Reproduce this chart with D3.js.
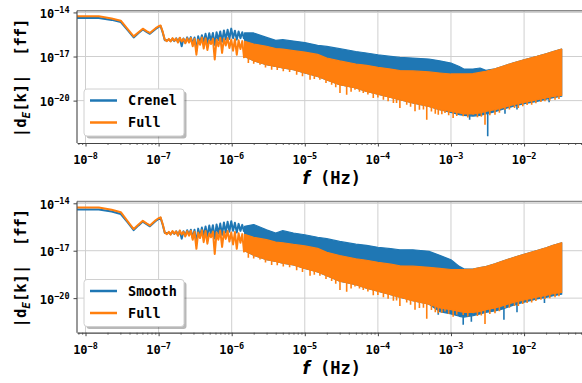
<!DOCTYPE html>
<html><head><meta charset="utf-8">
<script src="https://cdn.jsdelivr.net/npm/d3@7"></script>
<style>
html,body{margin:0;padding:0;background:#fff;}
svg{display:block;}
text{font-family:"DejaVu Sans Mono",monospace;font-weight:bold;fill:#000;}
</style>
</head><body>
<svg id="chart" width="582" height="383"></svg>
<script>
// ---------- data ----------
const xTickValues = [1e-8, 1e-7, 1e-6, 1e-5, 1e-4, 1e-3, 1e-2];
const xTickExponents = ["−8", "−7", "−6", "−5", "−4", "−3", "−2"];
const yTickValues = [1e-14, 1e-17, 1e-20];
const yTickExponents = ["−14", "−17", "−20"];

// low-frequency individual points (lines)
const lineFreq = [7.6e-9, 1.52e-8, 2.28e-8, 3.04e-8, 3.8e-8, 4.56e-8, 5.32e-8, 6.08e-8, 6.84e-8, 7.6e-8,
  8.36e-8, 9.12e-8, 9.88e-8, 1.064e-7, 1.14e-7, 1.216e-7,
  1.30e-7, 1.38e-7, 1.46e-7, 1.55e-7, 1.64e-7, 1.74e-7, 1.84e-7, 1.95e-7, 2.07e-7, 2.19e-7,
  2.32e-7, 2.46e-7, 2.61e-7, 2.76e-7, 2.93e-7, 3.10e-7, 3.29e-7, 3.48e-7, 3.69e-7, 3.91e-7,
  4.14e-7, 4.39e-7, 4.65e-7, 4.93e-7, 5.22e-7, 5.53e-7, 5.86e-7, 6.21e-7, 6.58e-7, 6.97e-7,
  7.39e-7, 7.83e-7, 8.29e-7, 8.79e-7, 9.31e-7, 9.86e-7, 1.045e-6, 1.107e-6, 1.173e-6, 1.243e-6,
  1.317e-6, 1.395e-6, 1.478e-6];
const fullLine = [5.4e-15, 5.4e-15, 3.9e-15, 2.75e-15, 7.0e-16, 2.35e-16, 4.5e-16, 7.8e-16, 5.4e-16, 4.0e-16,
  5.9e-16, 8.5e-16, 1.1e-15, 1.3e-15, 4.7e-16, 1.4e-16,
  1.12e-16, 1.58e-16, 1.05e-16, 1.78e-16, 1.2e-16, 1.66e-16, 8.9e-17, 1.9e-16, 1.05e-16, 1.58e-16,
  7.9e-17, 1.74e-16, 8.9e-17, 1.82e-16, 5.0e-17, 1.58e-16, 1.32e-17, 1.41e-16, 6.3e-17, 2.0e-16,
  3.5e-17, 1.78e-16, 2.8e-17, 1.26e-16, 7.1e-17, 1.66e-16, 6.3e-18, 1.41e-16, 5.0e-17, 1.9e-16,
  1.74e-17, 1.58e-16, 5.6e-17, 1.78e-16, 3.8e-17, 1.41e-16, 2.5e-17, 1.51e-16, 1.32e-17, 1.26e-16,
  3.2e-17, 1.12e-16, 7.9e-18];
const crenelLine = [4.2e-15, 4.2e-15, 3.1e-15, 2.2e-15, 6.0e-16, 2.0e-16, 4.0e-16, 7.0e-16, 4.8e-16, 3.5e-16,
  5.2e-16, 7.5e-16, 1.0e-15, 1.2e-15, 4.2e-16, 1.3e-16,
  1.26e-16, 1.41e-16, 1.12e-16, 1.58e-16, 1.12e-16, 1.74e-16, 1.0e-16, 1.82e-16, 5.0e-17, 1.66e-16,
  8.9e-17, 2.0e-16, 1.0e-16, 2.1e-16, 7.1e-17, 2.0e-16, 2.5e-17, 2.4e-16, 7.9e-17, 2.8e-16,
  8.9e-17, 3.5e-16, 7.9e-17, 3.8e-16, 1.12e-16, 4.0e-16, 6.3e-17, 4.5e-16, 1.26e-16, 5.0e-16,
  1.0e-16, 6.0e-16, 1.41e-16, 6.6e-16, 1.58e-16, 7.9e-16, 1.78e-16, 5.6e-16, 1.41e-16, 5.0e-16,
  1.78e-16, 4.5e-16, 1.58e-16];
const smoothLine = [4.1e-15, 4.1e-15, 3.0e-15, 2.1e-15, 6.0e-16, 2.0e-16, 4.0e-16, 7.0e-16, 4.8e-16, 3.5e-16,
  5.2e-16, 7.5e-16, 1.0e-15, 1.2e-15, 4.2e-16, 1.3e-16,
  1.3e-16, 1.4e-16, 1.1e-16, 1.6e-16, 1.15e-16, 1.7e-16, 9.5e-17, 1.8e-16, 5.8e-17, 1.7e-16,
  9.0e-17, 2.0e-16, 1.0e-16, 2.1e-16, 6.3e-17, 2.1e-16, 3.0e-17, 2.5e-16, 8.0e-17, 2.9e-16,
  9.0e-17, 3.4e-16, 8.0e-17, 3.9e-16, 1.1e-16, 4.1e-16, 6.0e-17, 4.6e-16, 1.2e-16, 5.2e-16,
  1.0e-16, 6.2e-16, 1.4e-16, 6.8e-16, 1.6e-16, 7.4e-16, 1.8e-16, 5.8e-16, 1.4e-16, 5.0e-16,
  1.8e-16, 4.3e-16, 1.6e-16];

// dense high-frequency part: upper / lower envelopes
const bandFreq = [1.5e-6, 2e-6, 3e-6, 4e-6, 5e-6, 7e-6, 1e-5, 1.5e-5, 2e-5, 3e-5, 5e-5, 7e-5, 1e-4, 1.5e-4,
  2e-4, 3e-4, 5e-4, 7e-4, 1e-3, 1.3e-3, 1.5e-3, 2e-3, 2.5e-3, 3e-3, 4e-3, 5e-3, 7e-3, 1e-2, 1.5e-2,
  2e-2, 2.5e-2, 3.27e-2];
const fullUpper = [1.1e-16, 7.1e-17, 5.0e-17, 3.5e-17, 3.2e-17, 2.5e-17, 2.0e-17, 1.4e-17, 7.9e-18, 5.0e-18,
  3.1e-18, 2.5e-18, 1.86e-18, 1.4e-18, 1.12e-18, 1.05e-18, 8.9e-19, 7.6e-19, 6.5e-19, 6.5e-19, 6.5e-19,
  6.8e-19, 8.5e-19, 1.0e-18, 1.48e-18, 2.1e-18, 3.6e-18, 6.0e-18, 1.02e-17, 1.55e-17, 2.2e-17, 3.2e-17];
const fullLower = [1.0e-17, 5.1e-18, 2.75e-18, 2.1e-18, 1.66e-18, 1.26e-18, 7.6e-19, 4.5e-19, 2.6e-19, 1.2e-19,
  7.2e-20, 4.3e-20, 2.8e-20, 1.66e-20, 1.15e-20, 6.9e-21, 4.1e-21, 2.4e-21, 1.86e-21, 1.45e-21, 1.23e-21,
  1.23e-21, 1.45e-21, 1.86e-21, 2.4e-21, 3.2e-21, 5.2e-21, 7.6e-21, 1.15e-20, 1.5e-20, 1.95e-20, 2.3e-20];
const crenelUpper = [4.0e-16, 4.0e-16, 2.0e-16, 1.26e-16, 1.41e-16, 1.12e-16, 8.9e-17, 5.8e-17, 4.9e-17, 3.4e-17,
  2.2e-17, 1.74e-17, 1.32e-17, 1.02e-17, 8.7e-18, 7.9e-18, 6.8e-18, 5.1e-18, 3.6e-18, 2.1e-18, 1.41e-18,
  1.41e-18, 1.66e-18, 1.15e-18, 1.48e-18, 2.1e-18, 3.6e-18, 6.0e-18, 1.02e-17, 1.55e-17, 2.2e-17, 3.2e-17];
const crenelLower = [1.0e-17, 5.1e-18, 2.75e-18, 2.1e-18, 1.66e-18, 1.26e-18, 7.6e-19, 4.5e-19, 2.6e-19, 1.2e-19,
  7.2e-20, 4.3e-20, 2.8e-20, 1.66e-20, 1.15e-20, 6.9e-21, 4.1e-21, 2.4e-21, 1.58e-21, 1.12e-21, 1.0e-21,
  8.9e-22, 1.0e-21, 1.26e-21, 1.78e-21, 2.5e-21, 4.0e-21, 6.3e-21, 8.9e-21, 1.26e-20, 1.58e-20, 2.0e-20];
const smoothUpper = [3.5e-16, 4.5e-16, 2.1e-16, 1.32e-16, 1.86e-16, 1.32e-16, 1.02e-16, 7.1e-17, 5.8e-17, 3.9e-17,
  2.6e-17, 2.2e-17, 1.66e-17, 1.35e-17, 1.15e-17, 1.15e-17, 9.1e-18, 5.1e-18, 2.7e-18, 1.02e-18, 7.2e-19,
  6.8e-19, 8.5e-19, 1.0e-18, 1.48e-18, 2.1e-18, 3.6e-18, 6.0e-18, 1.02e-17, 1.55e-17, 2.2e-17, 3.2e-17];
const smoothLower = [1.0e-17, 5.1e-18, 2.75e-18, 2.1e-18, 1.66e-18, 1.26e-18, 7.6e-19, 4.5e-19, 2.6e-19, 1.2e-19,
  7.2e-20, 4.3e-20, 2.8e-20, 1.66e-20, 1.15e-20, 6.9e-21, 4.1e-21, 1.41e-21, 1.0e-21, 7.1e-22, 6.3e-22,
  7.9e-22, 1.0e-21, 1.26e-21, 1.58e-21, 2.0e-21, 3.5e-21, 5.6e-21, 8.9e-21, 1.12e-20, 1.41e-20, 1.78e-20];

// downward excursions [frequency, value]
const fullSpikes = [[1.69e-6, 3.6e-18], [2.0e-6, 3.2e-18], [2.44e-6, 2.75e-18], [2.9e-6, 1.8e-18],
  [3.52e-6, 1.26e-18], [4.2e-6, 1.2e-18], [5.08e-6, 1.0e-18], [6.2e-6, 9e-19], [7.74e-6, 5.8e-19],
  [9.3e-6, 4.5e-19], [1.18e-5, 2.6e-19], [1.35e-5, 3.0e-19], [1.61e-5, 2.6e-19], [1.95e-5, 1.6e-19],
  [2.33e-5, 1.2e-19], [2.65e-5, 8e-20], [3.03e-5, 3.3e-20], [3.74e-5, 2.5e-20], [4.3e-5, 4e-20],
  [4.86e-5, 5.5e-20], [5.6e-5, 4.0e-20], [6.31e-5, 3.3e-20], [7.3e-5, 2.6e-20], [8.65e-5, 1.5e-20],
  [1.0e-4, 1.6e-20], [1.19e-4, 1.15e-20], [1.38e-4, 9e-21], [1.63e-4, 6.9e-21], [1.8e-4, 7e-21],
  [2.0e-4, 3.2e-21], [2.48e-4, 5.2e-21], [2.8e-4, 3.8e-21], [3.22e-4, 1.86e-21], [3.7e-4, 2.4e-21],
  [4.2e-4, 2.5e-21], [4.66e-4, 5.0e-22], [5.4e-4, 1.8e-21], [6.1e-4, 1.3e-21], [6.70e-4, 1.1e-21],
  [7.5e-4, 1.2e-21], [8.28e-4, 1.45e-21], [9.3e-4, 1.0e-21], [1.07e-3, 6.6e-22], [1.2e-3, 9e-22],
  [1.47e-3, 8.5e-22], [1.7e-3, 7e-22], [2.02e-3, 1.1e-21], [2.3e-3, 7.5e-22], [2.6e-3, 8e-22],
  [2.92e-3, 2.3e-22], [3.4e-3, 1.0e-21], [4.0e-3, 1.1e-21], [4.6e-3, 1.5e-21], [5.48e-3, 2.4e-21],
  [6.3e-3, 2.5e-21], [7.4e-3, 3.2e-21], [8.34e-3, 3.2e-21], [9.6e-3, 4.2e-21], [1.1e-2, 5e-21],
  [1.27e-2, 5.2e-21], [1.45e-2, 6.5e-21], [1.7e-2, 8e-21], [1.93e-2, 8.9e-21], [2.25e-2, 1.0e-20],
  [2.65e-2, 1.15e-20], [3.0e-2, 1.3e-20]];
const crenelSpikes = [[1.8e-3, 5.0e-22], [3.18e-3, 3.7e-23], [5.48e-3, 1.26e-21], [8e-3, 2.5e-21], [2.2e-2, 7.9e-21]];
const smoothSpikes = [[6.7e-4, 9e-22], [1.47e-3, 2.1e-22], [1.9e-3, 3.2e-22], [5.3e-3, 4.3e-22], [8e-3, 1.26e-21], [1.9e-2, 5.0e-21]];

const seriesNamesTop = ["Crenel", "Full"];
const seriesNamesBottom = ["Smooth", "Full"];
const blue = "#1f77b4", orange = "#ff7f0e";

// ---------- layout ----------
const panels = [
  {top: 10.7, bottom: 143, yDomain: [1.31e-23, 1.31e-14], names: seriesNamesTop,
   series: [
     {color: blue, line: crenelLine, upper: crenelUpper, lower: crenelLower, spikes: crenelSpikes},
     {color: orange, line: fullLine, upper: fullUpper, lower: fullLower, spikes: fullSpikes}],
   legendY: 89},
  {top: 201.5, bottom: 332.7, yDomain: [6.5e-23, 1.3e-14], names: seriesNamesBottom,
   series: [
     {color: blue, line: smoothLine, upper: smoothUpper, lower: smoothLower, spikes: smoothSpikes},
     {color: orange, line: fullLine, upper: fullUpper, lower: fullLower, spikes: fullSpikes}],
   legendY: 279.5}
];

const svg = d3.select("#chart");
const left = 77, right = 582;
const x = d3.scaleLog().domain([7.65e-9, 0.062]).range([left, right]);
const xMinor = [];
for (let e = -9; e <= -2; e++) for (let m = 2; m <= 9; m++) {
  const v = m * Math.pow(10, e);
  if (v >= x.domain()[0] && v <= x.domain()[1]) xMinor.push(v);
}

function drawSeries(gp, s, y) {
  const band = bandFreq.map((f, i) => ({f, hi: s.upper[i], lo: s.lower[i]}));
  gp.append("path").datum(band)
    .attr("d", d3.area().x(d => x(d.f)).y0(d => y(d.lo)).y1(d => y(d.hi)))
    .attr("fill", s.color).attr("stroke", s.color).attr("stroke-width", 1.2)
    .attr("stroke-linejoin", "round");
  const lowInterp = d3.scaleLinear().domain(bandFreq.map(Math.log10)).range(s.lower.map(Math.log10));
  gp.selectAll(null).data(s.spikes).enter().append("line")
    .attr("x1", d => x(d[0])).attr("x2", d => x(d[0]))
    .attr("y1", d => y(Math.pow(10, lowInterp(Math.log10(d[0])))))
    .attr("y2", d => y(d[1]))
    .attr("stroke", s.color).attr("stroke-width", 1.6);
  gp.append("path").datum(lineFreq.map((f, i) => [f, s.line[i]]))
    .attr("d", d3.line().x(d => x(d[0])).y(d => y(d[1])))
    .attr("fill", "none").attr("stroke", s.color).attr("stroke-width", 2)
    .attr("stroke-linejoin", "round");
}

panels.forEach((p, pi) => {
  const y = d3.scaleLog().domain(p.yDomain).range([p.bottom, p.top]);
  const g = svg.append("g");

  // grid
  g.selectAll(null).data(xTickValues).enter().append("line")
    .attr("x1", d => x(d)).attr("x2", d => x(d)).attr("y1", p.top).attr("y2", p.bottom)
    .attr("stroke", "#cfcfcf").attr("stroke-width", 1);
  g.selectAll(null).data(yTickValues).enter().append("line")
    .attr("x1", left).attr("x2", right).attr("y1", d => y(d)).attr("y2", d => y(d))
    .attr("stroke", "#cfcfcf").attr("stroke-width", 1);

  // data
  const clipId = "clip" + pi;
  svg.append("clipPath").attr("id", clipId).append("rect")
    .attr("x", left).attr("y", p.top).attr("width", right - left).attr("height", p.bottom - p.top);
  const plot = g.append("g").attr("clip-path", `url(#${clipId})`);
  p.series.forEach(s => drawSeries(plot, s, y));

  // spines
  g.append("line").attr("x1", left).attr("x2", right).attr("y1", p.top).attr("y2", p.top)
    .attr("stroke", "#8a8a8a").attr("stroke-width", 1.4);
  g.append("line").attr("x1", left).attr("x2", left).attr("y1", p.top).attr("y2", p.bottom)
    .attr("stroke", "#555").attr("stroke-width", 1.2);

  // x axis (major + minor)
  const xAxis = g.append("g").attr("transform", `translate(0,${p.bottom})`)
    .call(d3.axisBottom(x).tickValues(xTickValues).tickFormat("").tickSize(3.5).tickSizeOuter(0));
  xAxis.select(".domain").attr("stroke", "#444").attr("stroke-width", 1.2);
  xAxis.selectAll(".tick line").attr("stroke", "#444");
  const xAxisMinor = g.append("g").attr("transform", `translate(0,${p.bottom})`)
    .call(d3.axisBottom(x).tickValues(xMinor).tickFormat("").tickSize(2).tickSizeOuter(0));
  xAxisMinor.select(".domain").remove();
  xAxisMinor.selectAll(".tick line").attr("stroke", "#444").attr("stroke-width", 0.8);

  xTickValues.forEach((v, i) => {
    const t = g.append("text").attr("x", x(v)).attr("y", p.bottom + 21)
      .attr("text-anchor", "middle").style("font-size", "12px");
    t.append("tspan").text("10");
    t.append("tspan").attr("dy", -5).style("font-size", "8.5px").text(xTickExponents[i]);
  });

  // y axis
  const yAxis = g.append("g").attr("transform", `translate(${left},0)`)
    .call(d3.axisLeft(y).tickValues(yTickValues).tickFormat("").tickSize(3.5).tickSizeOuter(0));
  yAxis.select(".domain").remove();
  yAxis.selectAll(".tick line").attr("stroke", "#444");
  yTickValues.forEach((v, i) => {
    const t = g.append("text").attr("x", 69.5).attr("y", y(v) + 5.5)
      .attr("text-anchor", "end").style("font-size", "12px");
    t.append("tspan").text("10");
    t.append("tspan").attr("dy", -5).style("font-size", "8.5px").text(yTickExponents[i]);
  });

  // axis labels
  const xl = g.append("text").attr("x", 331.7).attr("y", p.bottom + 41)
    .attr("text-anchor", "middle").style("font-size", "17px").style("white-space", "pre");
  xl.append("tspan").style("font-style", "italic").style("font-family", "DejaVu Sans").text("f");
  xl.append("tspan").text(" (Hz)");

  const cy = (p.top + p.bottom) / 2 + 1;
  const yl = g.append("text").attr("transform", `translate(26,${cy}) rotate(-90)`)
    .attr("text-anchor", "middle").style("font-size", "15.5px").style("white-space", "pre");
  yl.append("tspan").text("|d");
  yl.append("tspan").attr("dy", 3.5).style("font-size", "11px").style("font-style", "italic").text("E");
  yl.append("tspan").attr("dy", -3.5).text("[k]|  [ff]");

  // legend
  const lg = g.append("g").attr("transform", `translate(84,${p.legendY})`);
  lg.append("rect").attr("x", 2.5).attr("y", 2.5).attr("width", 100).attr("height", 47).attr("rx", 3)
    .attr("fill", "#000").attr("fill-opacity", 0.28);
  lg.append("rect").attr("x", 0).attr("y", 0).attr("width", 100).attr("height", 47).attr("rx", 3)
    .attr("fill", "#fff").attr("stroke", "#d0d0d0").attr("stroke-width", 1);
  p.names.forEach((name, i) => {
    const yy = 11.5 + i * 22;
    lg.append("line").attr("x1", 6).attr("x2", 33).attr("y1", yy).attr("y2", yy)
      .attr("stroke", p.series[i].color).attr("stroke-width", 2.5);
    lg.append("text").attr("x", 44).attr("y", yy + 4.8).style("font-size", "13.5px").text(name);
  });
});
</script>
</body></html>
